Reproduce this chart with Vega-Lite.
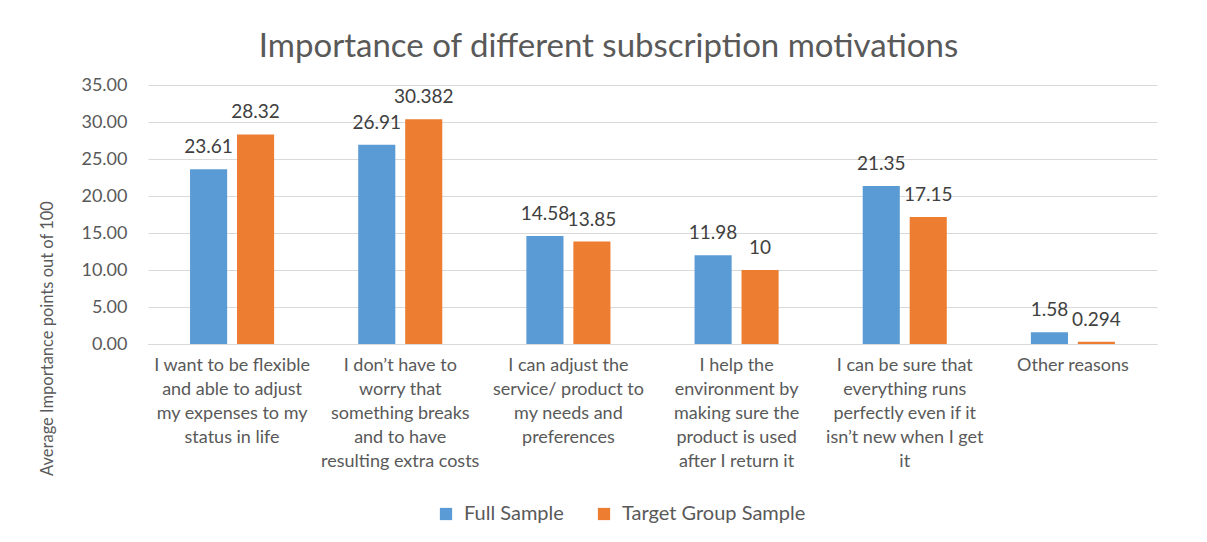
{
  "$schema": "https://vega.github.io/schema/vega-lite/v6.json",
  "autosize": {"type": "none"},
  "width": 1009,
  "height": 259,
  "padding": {"left": 148, "right": 50, "top": 85, "bottom": 198},
  "background": "white",
  "title": {
    "text": "Importance of different subscription motivations",
    "font": "Lato",
    "fontSize": 33,
    "fontWeight": "normal",
    "color": "#595959",
    "anchor": "middle",
    "dx": -44,
    "offset": 12
  },
  "data": {
    "values": [
      {"cat": "I want to be flexible|and able to adjust|my expenses to my|status in life", "order": 1, "series": "Full Sample", "value": 23.61},
      {"cat": "I want to be flexible|and able to adjust|my expenses to my|status in life", "order": 1, "series": "Target Group Sample", "value": 28.32},
      {"cat": "I don’t have to|worry that|something breaks|and to have|resulting extra costs", "order": 2, "series": "Full Sample", "value": 26.91},
      {"cat": "I don’t have to|worry that|something breaks|and to have|resulting extra costs", "order": 2, "series": "Target Group Sample", "value": 30.382},
      {"cat": "I can adjust the|service/ product to|my needs and|preferences", "order": 3, "series": "Full Sample", "value": 14.58},
      {"cat": "I can adjust the|service/ product to|my needs and|preferences", "order": 3, "series": "Target Group Sample", "value": 13.85},
      {"cat": "I help the|environment by|making sure the|product is used|after I return it", "order": 4, "series": "Full Sample", "value": 11.98},
      {"cat": "I help the|environment by|making sure the|product is used|after I return it", "order": 4, "series": "Target Group Sample", "value": 10},
      {"cat": "I can be sure that|everything runs|perfectly even if it|isn’t new when I get|it", "order": 5, "series": "Full Sample", "value": 21.35},
      {"cat": "I can be sure that|everything runs|perfectly even if it|isn’t new when I get|it", "order": 5, "series": "Target Group Sample", "value": 17.15},
      {"cat": "Other reasons", "order": 6, "series": "Full Sample", "value": 1.58},
      {"cat": "Other reasons", "order": 6, "series": "Target Group Sample", "value": 0.294}
    ]
  },
  "encoding": {
    "x": {
      "field": "cat",
      "type": "nominal",
      "sort": {"field": "order", "op": "min"},
      "scale": {"paddingInner": 0.5, "paddingOuter": 0.25},
      "axis": {
        "title": null,
        "labelAngle": 0,
        "labelExpr": "split(datum.label, '|')",
        "labelFont": "Lato",
        "labelFontSize": 18,
        "labelColor": "#595959",
        "labelLineHeight": 24,
        "labelPadding": 12,
        "ticks": false,
        "domainColor": "#d9d9d9",
        "labelLimit": 300
      }
    },
    "xOffset": {
      "field": "series",
      "type": "nominal",
      "scale": {"paddingInner": 0.21, "paddingOuter": 0}
    },
    "y": {
      "field": "value",
      "type": "quantitative",
      "scale": {"domain": [0, 35]},
      "axis": {
        "title": "Average Importance points out of 100",
        "titleFont": "Lato",
        "titleFontSize": 16.5,
        "titleFontWeight": "normal",
        "titleColor": "#595959",
        "titleAngle": -90,
        "titleAlign": "center",
        "titleX": -93,
        "titleY": 253,
        "values": [0, 5, 10, 15, 20, 25, 30, 35],
        "format": ".2f",
        "labelFont": "Lato",
        "labelFontSize": 18,
        "labelColor": "#595959",
        "labelPadding": 21,
        "ticks": false,
        "domain": false,
        "gridColor": "#d9d9d9"
      }
    }
  },
  "layer": [
    {
      "mark": {"type": "bar"},
      "encoding": {
        "color": {
          "field": "series",
          "type": "nominal",
          "scale": {"domain": ["Full Sample", "Target Group Sample"], "range": ["#5B9BD5", "#ED7D31"]},
          "legend": {
            "title": null,
            "orient": "none",
            "legendX": 288,
            "legendY": 419,
            "direction": "horizontal",
            "symbolType": "square",
            "symbolSize": 150,
            "symbolStrokeWidth": 0,
            "labelFont": "Lato",
            "labelFontSize": 20,
            "labelLimit": 400,
            "labelColor": "#595959",
            "labelOffset": 8,
            "columnPadding": 30
          }
        }
      }
    },
    {
      "mark": {"type": "text", "baseline": "alphabetic", "dy": -16, "font": "Lato", "fontSize": 19, "color": "#404040"},
      "encoding": {
        "text": {"field": "value", "type": "nominal"}
      }
    }
  ],
  "config": {
    "view": {"stroke": null}
  }
}
